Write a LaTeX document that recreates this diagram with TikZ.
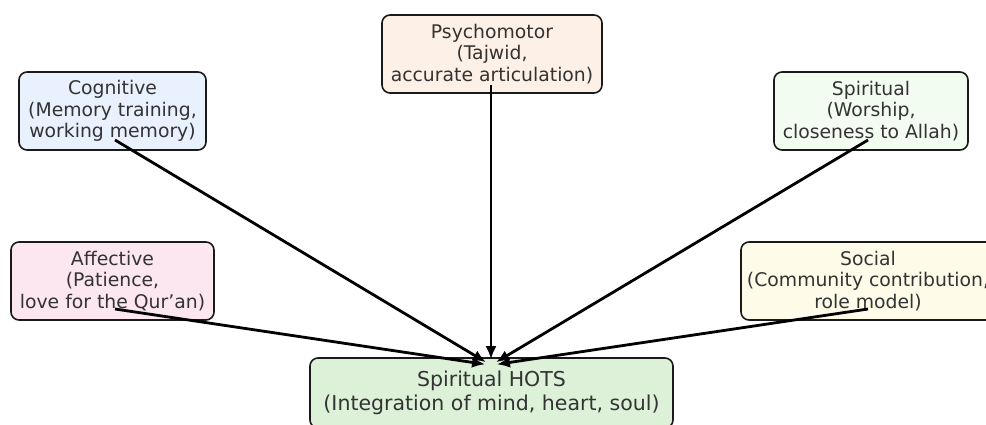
\documentclass[tikz,border=0pt]{standalone}
\usepackage{fontspec}
\setmainfont{DejaVu Sans}
\usetikzlibrary{arrows.meta,calc}
\definecolor{txt}{HTML}{333333}
\definecolor{edge}{HTML}{1A1A1A}
\definecolor{cogfill}{HTML}{E8F1FD}
\definecolor{psyfill}{HTML}{FDF0E6}
\definecolor{spifill}{HTML}{F2FCF0}
\definecolor{afffill}{HTML}{FCE6F0}
\definecolor{socfill}{HTML}{FEFBE8}
\definecolor{hotsfill}{HTML}{DDF0D8}
\tikzset{
  box/.style={draw=edge, line width=1.6pt, rounded corners=8pt, align=center,
    text=txt, inner sep=0pt, minimum height=78pt,
    font=\fontsize{18.8}{21.5}\selectfont},
  hotsbox/.style={box, minimum height=70pt, font=\fontsize{20.5}{24.5}\selectfont},
  link/.style={draw=black, line width=2.8pt, shorten >=6pt,
    -{Latex[length=13pt,width=11pt]}}
}
\begin{document}
\begin{tikzpicture}[x=1pt,y=-1pt]
\useasboundingbox (0,0) rectangle (986,424);
\clip (0,0) rectangle (986,424);
\node[box, fill=cogfill, minimum width=187pt] (cog) at (112.5,111)
  {Cognitive\\(Memory training,\\working memory)};
\node[box, fill=psyfill, minimum width=220pt] (psy) at (492,54)
  {Psychomotor\\(Tajwid,\\accurate articulation)};
\node[box, fill=spifill, minimum width=194pt] (spi) at (871,111)
  {Spiritual\\(Worship,\\closeness to Allah)};
\node[box, fill=afffill, minimum width=203pt] (aff) at (112.5,281)
  {Affective\\(Patience,\\love for the Qur’an)};
\node[box, fill=socfill, minimum width=254pt] (soc) at (868,281)
  {Social\\(Community contribution,\\role model)};
\node[hotsbox, fill=hotsfill, minimum width=363pt] (hots) at (491.5,393)
  {Spiritual HOTS\\(Integration of mind, heart, soul)};
\coordinate (hub) at ($(hots.north)+(-0.5,8)$);
\coordinate (cogA) at ($(cog.center)+(2.5,29)$);
\coordinate (psyA) at ($(psy.center)+(-1,31)$);
\coordinate (spiA) at ($(spi.center)+(-3,29)$);
\coordinate (affA) at ($(aff.center)+(2.5,28)$);
\coordinate (socA) at ($(soc.center)+(0,28)$);
\draw[link] (cogA) -- (hub);
\draw[link] (psyA) -- (hub);
\draw[link] (spiA) -- (hub);
\draw[link] (affA) -- (hub);
\draw[link] (socA) -- (hub);
\end{tikzpicture}
\end{document}
